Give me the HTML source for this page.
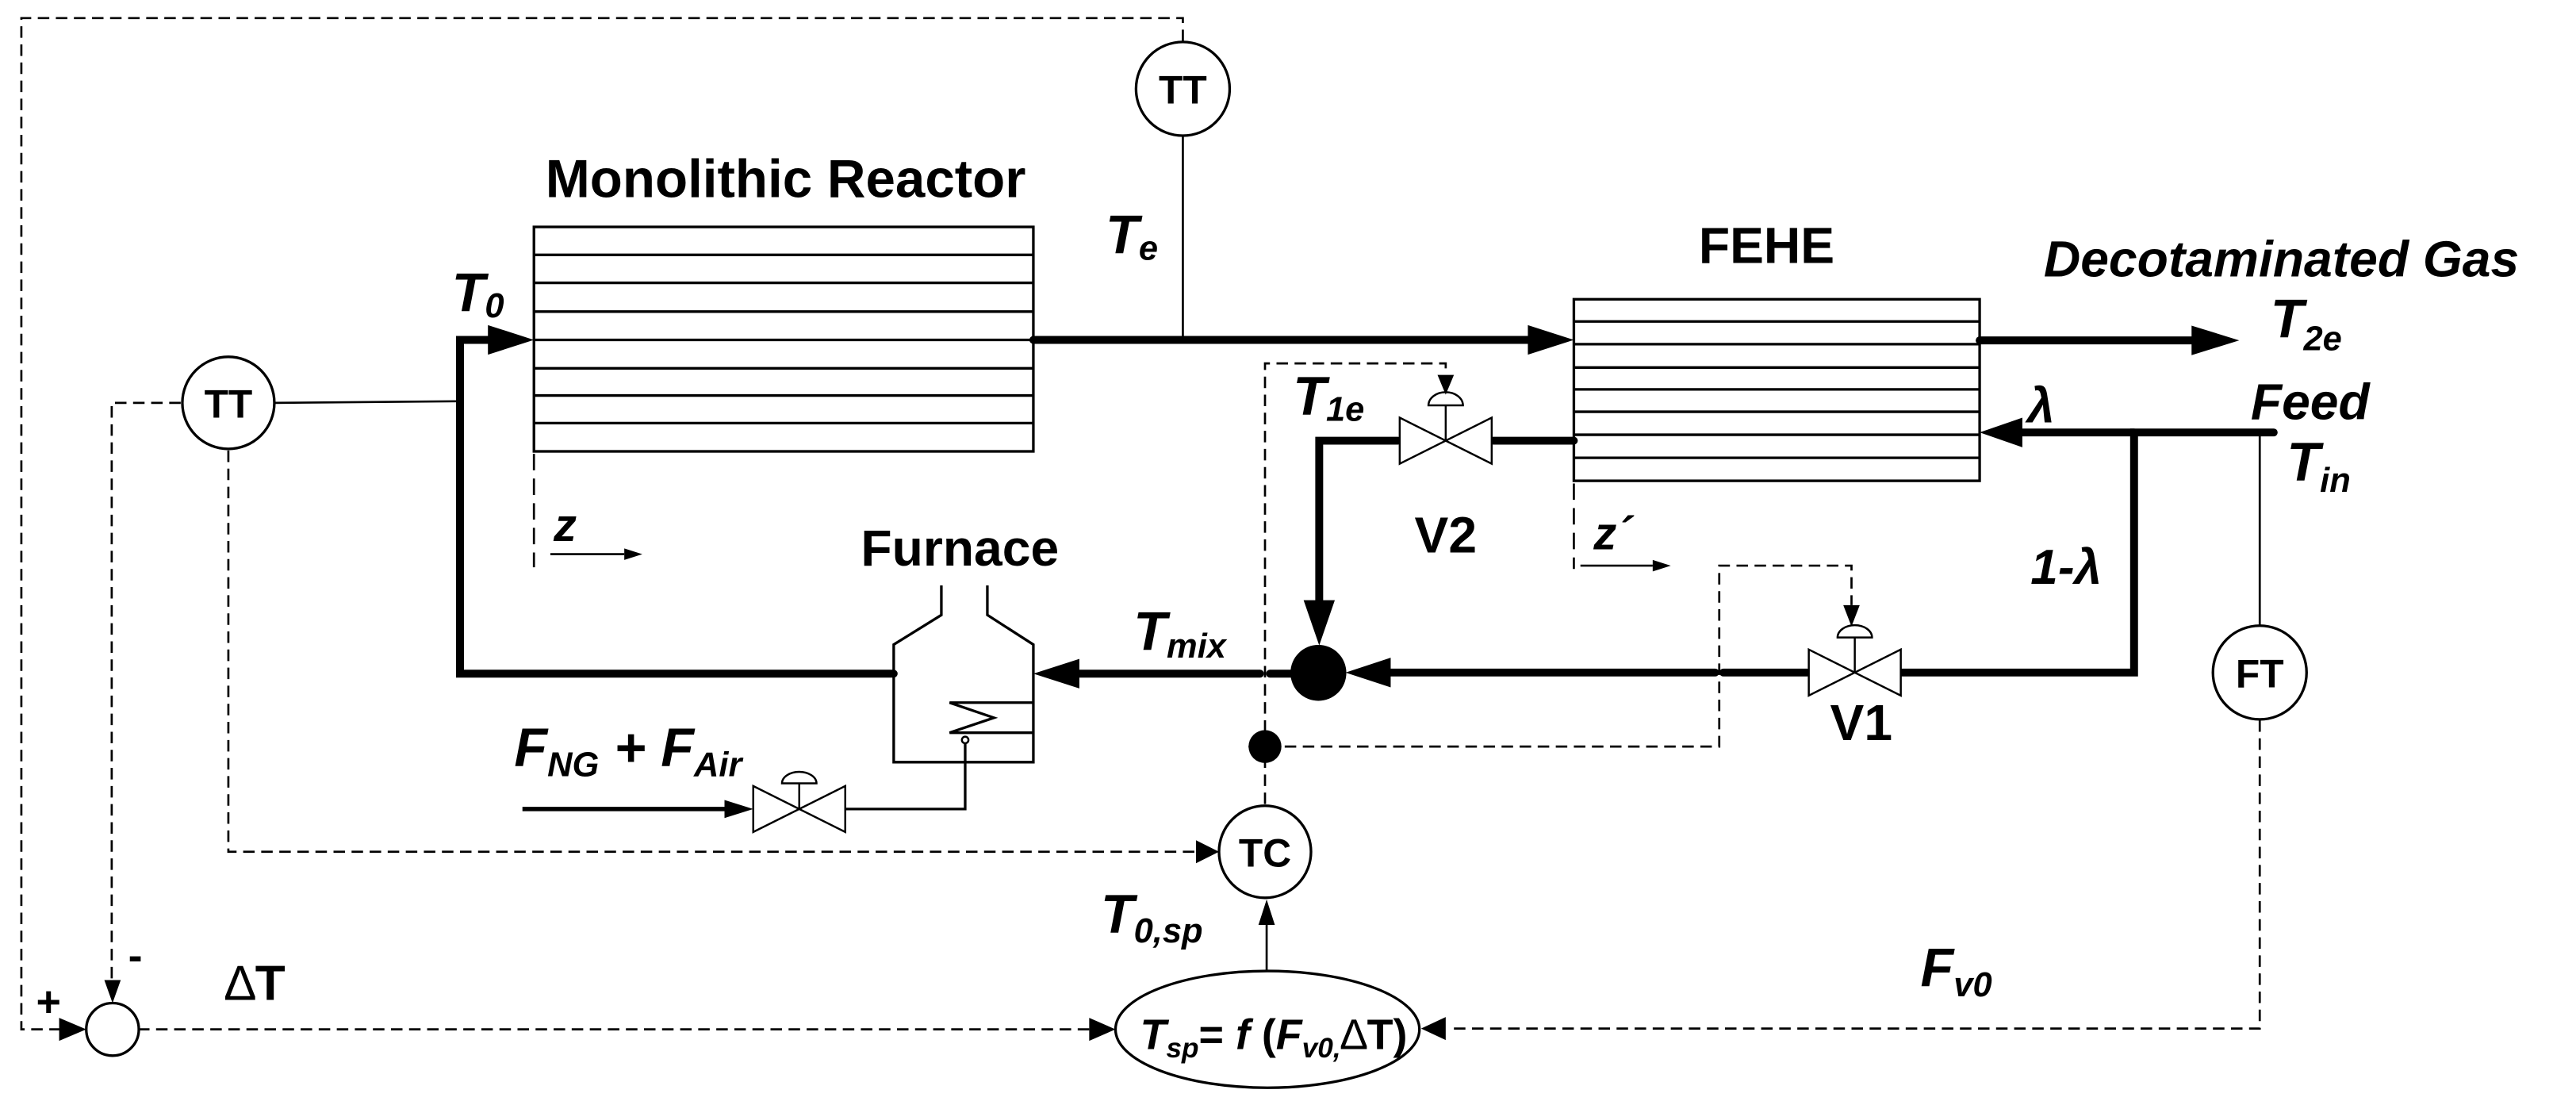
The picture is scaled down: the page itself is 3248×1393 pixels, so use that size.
<!DOCTYPE html>
<html><head><meta charset="utf-8"><style>
html,body{margin:0;padding:0;background:#fff;}
svg{display:block;}
text{font-family:"Liberation Sans",Arial,sans-serif;font-weight:bold;fill:#000;}
.it{font-style:italic;}
</style></head><body>
<svg width="3248" height="1393" viewBox="0 0 1568 672" preserveAspectRatio="none" xmlns="http://www.w3.org/2000/svg">
<g fill="none" stroke="#000">
<g stroke-width="1.3" stroke-dasharray="7,4">
<polyline points="720,25 720,11 13,11 13,626 38,626"/>
<polyline points="110,245 68,245 68,596"/>
<polyline points="139,274 139,518 728,518"/>
<line x1="84" y1="626" x2="665" y2="626"/>
<polyline points="1375.5,438 1375.5,625.5 882,625.5"/>
<polyline points="770,489 770,221 880,221 880,228"/>
<polyline points="760,454 1046.5,454 1046.5,344 1127,344 1127,368"/>
<line x1="325" y1="276" x2="325" y2="345" stroke-dasharray="10,5"/>
<line x1="958" y1="294" x2="958" y2="346" stroke-dasharray="10,5"/>
</g>
<g stroke-width="1.3">
<line x1="720" y1="83" x2="720" y2="207"/>
<line x1="167" y1="245" x2="280" y2="244"/>
<line x1="1375.5" y1="263" x2="1375.5" y2="381"/>
<line x1="771" y1="590" x2="771" y2="560"/>
<line x1="335" y1="337" x2="380" y2="337"/>
<line x1="962" y1="344" x2="1006" y2="344"/>
</g>
<g stroke-width="1.6" fill="#fff">
<circle cx="720" cy="54" r="28.5"/>
<circle cx="139" cy="245" r="28"/>
<circle cx="1375.5" cy="409" r="28.5"/>
<circle cx="770" cy="518" r="28"/>
<circle cx="68.5" cy="626" r="16"/>
<ellipse cx="771.5" cy="626" rx="92.5" ry="35.5"/>
</g>
<g stroke-width="1.6">
<rect x="325" y="138" width="304" height="136.5"/>
<line x1="325" y1="155" x2="629" y2="155"/>
<line x1="325" y1="172" x2="629" y2="172"/>
<line x1="325" y1="189.5" x2="629" y2="189.5"/>
<line x1="325" y1="206.7" x2="629" y2="206.7"/>
<line x1="325" y1="224" x2="629" y2="224"/>
<line x1="325" y1="240.5" x2="629" y2="240.5"/>
<line x1="325" y1="257.3" x2="629" y2="257.3"/>
<rect x="958" y="182" width="247" height="110.4"/>
<line x1="958" y1="195.5" x2="1205" y2="195.5"/>
<line x1="958" y1="209.3" x2="1205" y2="209.3"/>
<line x1="958" y1="223.5" x2="1205" y2="223.5"/>
<line x1="958" y1="236.8" x2="1205" y2="236.8"/>
<line x1="958" y1="250.4" x2="1205" y2="250.4"/>
<line x1="958" y1="264.4" x2="1205" y2="264.4"/>
<line x1="958" y1="278.4" x2="1205" y2="278.4"/>
<polyline points="573,356 573,374 544,392 544,463.5 629,463.5 629,392 601,374 601,356"/>
<polyline points="629,427.3 578,427.3 605,436.5 578,445.6 629,445.6"/>
<circle cx="587.5" cy="450" r="2" stroke-width="1.2"/>
<polyline points="587.5,452 587.5,492 515,492"/>
<line x1="318" y1="492" x2="445" y2="492" stroke-width="2.6"/>
</g>
<g stroke-width="4.8" stroke-linecap="round" stroke-linejoin="miter">
<polyline points="300,206.7 280,206.7 280,409.7 544,409.7"/>
<line x1="629" y1="206.7" x2="935" y2="206.7"/>
<line x1="1205" y1="207" x2="1338" y2="207"/>
<polyline points="1384,263 1299,263 1299,409 1157,409"/>
<line x1="1299" y1="263" x2="1230" y2="263"/>
<line x1="909" y1="268" x2="958" y2="268"/>
<polyline points="851,268 803,268 803,368"/>
<line x1="1044" y1="409" x2="845" y2="409"/>
<line x1="1100" y1="409" x2="1049" y2="409"/>
<line x1="767" y1="409.7" x2="655" y2="409.7"/>
<line x1="786" y1="409.7" x2="773" y2="409.7"/>
</g>
<g stroke-width="1.2" fill="#fff">
<path d="M852,254 L908,282 L908,254 L852,282 Z"/>
<path d="M1101,395 L1157,423 L1157,395 L1101,423 Z"/>
<path d="M458.5,478 L514.5,506 L514.5,478 L458.5,506 Z"/>
<line x1="880" y1="246.5" x2="880" y2="268"/>
<line x1="1129" y1="387.7" x2="1129" y2="409"/>
<line x1="486.5" y1="476.4" x2="486.5" y2="492"/>
<path d="M869.5,246.5 A10.5,8 0 0 1 890.5,246.5 Z"/>
<path d="M1118.5,387.7 A10.5,7.5 0 0 1 1139.5,387.7 Z"/>
<path d="M476,476.4 A10.5,7 0 0 1 497,476.4 Z"/>
</g>
</g>
<g fill="#000" stroke="none">
<polygon points="297,197.7 325,206.7 297,215.7"/>
<polygon points="930,197.7 958,206.7 930,215.7"/>
<polygon points="1334,198 1363,207 1334,216"/>
<polygon points="1231,254 1205,263 1231,272"/>
<polygon points="657,400.7 629,409.7 657,418.7"/>
<polygon points="846.5,400 819,409 846.5,418"/>
<polygon points="793.5,365 812.5,365 803,392.5"/>
<polygon points="441,486.5 458.5,492 441,497.5"/>
<circle cx="802.5" cy="409.2" r="17"/>
<circle cx="770" cy="454" r="10"/>
<polygon points="875,228 885,228 880,240"/>
<polygon points="1122,368 1132,368 1127,381"/>
<polygon points="63.5,596 73.5,596 68.5,610"/>
<polygon points="36,619 36,633 52.5,626"/>
<polygon points="663,619 663,633 679,626"/>
<polygon points="880,618.5 880,632.5 865,625.5"/>
<polygon points="728,511 728,525 742,518"/>
<polygon points="766,562.5 776,562.5 771,547"/>
<polygon points="380,333.5 391,337 380,340.5"/>
<polygon points="1006,340.5 1017,344 1006,347.5"/>
</g>
<g>
<text x="720" y="63" font-size="24" text-anchor="middle">TT</text>
<text x="139" y="254" font-size="24" text-anchor="middle">TT</text>
<text x="1375.5" y="418" font-size="24" text-anchor="middle">FT</text>
<text x="770" y="527" font-size="24" text-anchor="middle">TC</text>
<text x="332" y="120" font-size="32.5">Monolithic Reactor</text>
<text x="1034" y="160" font-size="31">FEHE</text>
<text class="it" x="1244" y="168" font-size="31">Decotaminated Gas</text>
<text x="524" y="344" font-size="31">Furnace</text>
<text x="861" y="336" font-size="31">V2</text>
<text x="1114" y="450" font-size="31">V1</text>
<text class="it" x="275" y="189" font-size="33">T<tspan font-size="21" dy="4">0</tspan></text>
<text class="it" x="673" y="154" font-size="33">T<tspan font-size="21" dy="4">e</tspan></text>
<text class="it" x="787" y="252" font-size="33">T<tspan font-size="21" dy="4">1e</tspan></text>
<text class="it" x="1382" y="205" font-size="33">T<tspan font-size="21" dy="8">2e</tspan></text>
<text class="it" x="1370" y="255" font-size="31">Feed</text>
<text class="it" x="1392" y="292" font-size="33">T<tspan font-size="21" dy="7">in</tspan></text>
<text class="it" x="1234" y="257" font-size="30">λ</text>
<text class="it" x="1236" y="355" font-size="30">1-λ</text>
<text class="it" x="690" y="395" font-size="33">T<tspan font-size="21" dy="5">mix</tspan></text>
<text class="it" x="337" y="329" font-size="28">z</text>
<text class="it" x="970" y="334" font-size="28">z´</text>
<text class="it" x="313" y="466" font-size="33">F<tspan font-size="21" dy="6">NG</tspan><tspan dy="-6"> + F</tspan><tspan font-size="21" dy="6">Air</tspan></text>
<text class="it" x="670" y="567" font-size="33">T<tspan font-size="21" dy="6">0,sp</tspan></text>
<text class="it" x="1169" y="600" font-size="33">F<tspan font-size="21" dy="6">v0</tspan></text>
<text x="137" y="608" font-size="30"><tspan font-weight="normal">∆</tspan>T</text>
<text x="22" y="618" font-size="26">+</text>
<text x="78" y="590" font-size="26">-</text>
<text x="694" y="638" font-size="26"><tspan class="it">T</tspan><tspan class="it" font-size="17" dy="5">sp</tspan><tspan dy="-5">= </tspan><tspan class="it">f</tspan><tspan> (</tspan><tspan class="it">F</tspan><tspan class="it" font-size="17" dy="5">v0,</tspan><tspan dy="-5" font-weight="normal">∆</tspan><tspan>T)</tspan></text>
</g>
</svg>
</body></html>
